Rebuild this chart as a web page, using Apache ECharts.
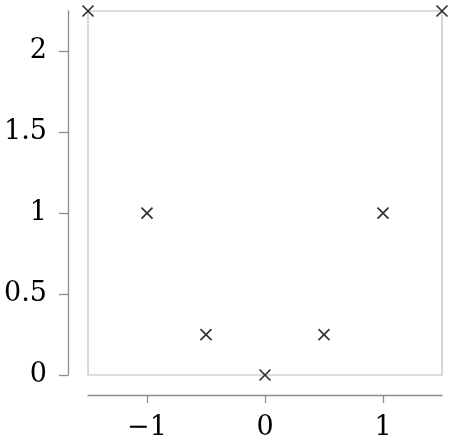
<!DOCTYPE html>
<html>
<head>
<meta charset="utf-8">
<script src="https://cdn.jsdelivr.net/npm/echarts@6/dist/echarts.min.js"></script>
<style>
html,body{margin:0;padding:0;background:#fff;}
#chart{width:454px;height:442px;}
</style>
</head>
<body>
<div id="chart"></div>
<script>
const xValues = [-1.5, -1, -0.5, 0, 0.5, 1, 1.5];
const yValues = [2.25, 1, 0.25, 0, 0.25, 1, 2.25];
const xTicks = [-1, 0, 1];
const yTicks = [0, 0.5, 1, 1.5, 2];

const points = xValues.map((x, i) => [x, yValues[i]]);
const labelFont = { fontFamily: 'DejaVu Serif', fontSize: 27, color: '#000' };
const fmt = v => String(v).replace('-', '\u2212');

const chart = echarts.init(document.getElementById('chart'), null, { renderer: 'canvas' });
chart.setOption({
  animation: false,
  grid: { left: 88, right: 12, top: 11, bottom: 67, show: true, borderColor: '#bdbdbd', borderWidth: 1.2, containLabel: false },
  xAxis: {
    type: 'value', min: -1.5, max: 1.5, position: 'bottom', offset: 20,
    splitLine: { show: false },
    axisLine: { show: true, onZero: false, lineStyle: { color: '#8c8c8c', width: 1.3 } },
    axisTick: { show: true, inside: false, length: 8, lineStyle: { color: '#8c8c8c', width: 1.3 }, customValues: xTicks },
    axisLabel: Object.assign({ margin: 19, formatter: fmt, customValues: xTicks }, labelFont)
  },
  yAxis: {
    type: 'value', min: 0, max: 2.25, position: 'left', offset: 20,
    splitLine: { show: false },
    axisLine: { show: true, onZero: false, lineStyle: { color: '#8c8c8c', width: 1.3 } },
    axisTick: { show: true, inside: false, length: 9, lineStyle: { color: '#8c8c8c', width: 1.3 }, customValues: yTicks },
    axisLabel: Object.assign({ margin: 21, formatter: fmt, customValues: yTicks }, labelFont)
  },
  series: [{
    type: 'scatter',
    data: points,
    clip: false,
    symbol: 'path://M0,0L10,10M10,0L0,10',
    symbolSize: 11,
    itemStyle: { color: 'rgba(0,0,0,0)', borderColor: '#000', borderWidth: 1.7 }
  }]
});
</script>
</body>
</html>
